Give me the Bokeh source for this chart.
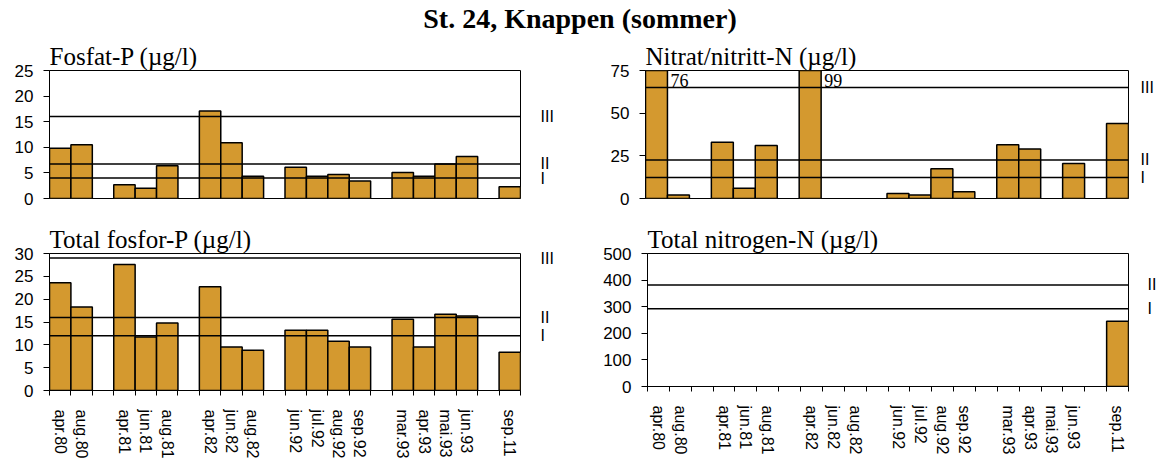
import math
from bokeh.plotting import figure
from bokeh.layouts import column, row
from bokeh.models import FixedTicker, Span, Label, Range1d, ColumnDataSource, LinearAxis
from bokeh.embed import file_html
from bokeh.resources import INLINE

nan = float("nan")

# ---------------- data ----------------
main_title = "St. 24, Knappen (sommer)"

months = ["apr.80", "aug.80", "", "apr.81", "jun.81", "aug.81", "",
          "apr.82", "jun.82", "aug.82", "",
          "jun.92", "jul.92", "aug.92", "sep.92", "",
          "mar.93", "apr.93", "mai.93", "jun.93", "", "sep.11"]

fosfat_p = [9.8, 10.5, nan, 2.7, 2.0, 6.4, nan,
            17.1, 10.9, 4.35, nan,
            6.1, 4.35, 4.7, 3.4, nan,
            5.1, 4.35, 6.75, 8.2, nan, 2.3]

nitrat_n = [76, 2, nan, 33, 6, 31, nan,
            99, nan, nan, nan,
            3, 2, 17.5, 4, nan,
            31.5, 29, nan, 20.5, nan, 44]

total_p = [23.6, 18.3, nan, 27.6, 11.7, 14.8, nan,
           22.7, 9.5, 8.8, nan,
           13.2, 13.2, 10.8, 9.5, nan,
           15.6, 9.5, 16.7, 16.3, nan, 8.4]

total_n = [nan, nan, nan, nan, nan, nan, nan,
           nan, nan, nan, nan,
           nan, nan, nan, nan, nan,
           nan, nan, nan, nan, nan, 245]

roman = ["I", "II", "III"]
fosfat_limits = [4, 6.75, 16]
nitrat_limits = [12.3, 22.6, 65]
total_p_limits = [12, 16, 29]
total_n_limits = [292, 382]

# ---------------- style ----------------
BAR = "#D4992F"
SERIF = "Liberation Serif"
SANS = "Liberation Sans"


def make_panel(title, values, limits, ymax, ystep, frame_w, frame_h,
               borders, show_x, roman_gap):
    n = len(months)
    bl, bt, br, bb = borders
    p = figure(frame_width=frame_w, frame_height=frame_h,
               x_range=Range1d(-0.5, n - 0.5), y_range=Range1d(0, ymax),
               output_backend="svg", toolbar_location=None,
               min_border_left=bl, min_border_top=bt,
               min_border_right=br, min_border_bottom=bb,
               background_fill_color="white", border_fill_color="white")
    p.title.text = title
    p.title.text_font = SERIF
    p.title.text_font_size = "25px"
    p.title.text_font_style = "normal"
    p.title.text_color = "black"
    p.title.align = "left"
    p.title.standoff = 1
    p.xgrid.visible = False
    p.ygrid.visible = False
    p.outline_line_color = "black"
    p.outline_line_width = 1

    src = ColumnDataSource(dict(x=list(range(n)), val=values))
    p.vbar(x="x", top="val", bottom=0, width=1.0, source=src,
           fill_color=BAR, line_color="black", line_width=1.5)

    ya = p.yaxis[0]
    ya.ticker = FixedTicker(ticks=list(range(0, ymax + 1, ystep)))
    ya.major_tick_out = 6
    ya.major_tick_in = 0
    ya.minor_tick_out = 0
    ya.minor_tick_in = 0
    ya.axis_line_color = "black"
    ya.major_tick_line_color = "black"
    ya.major_label_text_font = SANS
    ya.major_label_text_font_size = "17px"
    ya.major_label_text_color = "black"
    ya.major_label_standoff = 10

    xa = p.xaxis[0]
    if show_x:
        xa.ticker = FixedTicker(ticks=list(range(n)),
                                minor_ticks=[i - 0.5 for i in range(n + 1)])
        xa.major_label_overrides = {i: m for i, m in enumerate(months)}
        xa.major_label_orientation = "vertical"
        xa.major_tick_out = 0
        xa.major_tick_in = 0
        xa.minor_tick_out = 5
        xa.minor_tick_in = 0
        xa.minor_tick_line_color = "black"
        xa.axis_line_color = "black"
        xa.major_label_standoff = 14
        xa.major_label_text_font = SANS
        xa.major_label_text_font_size = "16px"
        xa.major_label_text_color = "black"
    else:
        xa.visible = False

    for lim in limits:
        p.add_layout(Span(location=lim, dimension="width",
                          line_color="black", line_width=1.5))

    # class labels (I, II, III) on a right-hand axis at the limit values
    ra = LinearAxis(ticker=FixedTicker(ticks=list(limits)),
                    major_label_overrides={lim: lab for lim, lab in zip(limits, roman)},
                    axis_line_color=None, major_tick_line_color=None,
                    minor_tick_line_color=None,
                    major_tick_out=0, major_tick_in=0,
                    minor_tick_out=0, minor_tick_in=0,
                    major_label_standoff=roman_gap,
                    major_label_text_font=SANS,
                    major_label_text_font_size="16px",
                    major_label_text_color="black")
    p.add_layout(ra, "right")

    for i, v in enumerate(values):
        if v == v and v > ymax:
            p.add_layout(Label(x=i + 0.5, y=ymax, text=f"{v:g}",
                               x_offset=3, y_offset=-3,
                               text_baseline="top", text_align="left",
                               text_font=SERIF, text_font_size="18px",
                               text_color="black"))
    return p


# title strip
t = figure(width=1159, height=36, x_range=Range1d(0, 1), y_range=Range1d(0, 1),
           toolbar_location=None, output_backend="svg", min_border=0,
           outline_line_color=None)
t.axis.visible = False
t.grid.visible = False
t.add_layout(Label(x=579.5, y=18, x_units="screen", y_units="screen",
                   text=main_title, text_font=SERIF, text_font_size="28px",
                   text_font_style="bold", text_color="black",
                   text_align="center", text_baseline="middle"))

tl = make_panel("Fosfat-P (µg/l)", fosfat_p, fosfat_limits, 25, 5,
                471, 128, (49, 34, 60, 14), False, 20)
tr = make_panel("Nitrat/nitritt-N (µg/l)", nitrat_n, nitrat_limits, 75, 25,
                483, 128, (65, 34, 31, 14), False, 12)
bl = make_panel("Total fosfor-P (µg/l)", total_p, total_p_limits, 30, 5,
                471, 137, (49, 41, 60, 74), True, 20)
br = make_panel("Total nitrogen-N (µg/l)", total_n, total_n_limits, 500, 100,
                481, 133, (67, 41, 31, 78), True, 19)

layout = column(t, row(tl, tr), row(bl, br))

open("out.html", "w").write(file_html(layout, INLINE))
